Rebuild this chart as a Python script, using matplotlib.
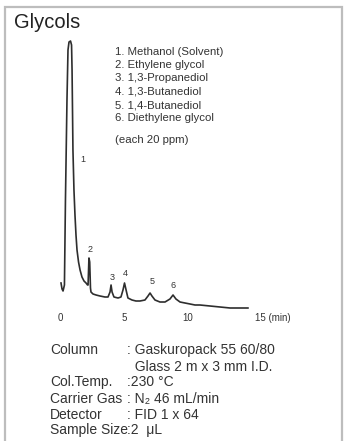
import matplotlib
matplotlib.use("Agg")
import matplotlib.pyplot as plt
from matplotlib.patches import Rectangle

plt.rcParams['font.family'] = ['Liberation Sans', 'DejaVu Sans']

# Chromatogram trace: retention time (min), detector signal (a.u.)
trace_time = [0.04, 0.12, 0.20, 0.31, 0.39, 0.51, 0.59, 0.67, 0.79, 0.87,
              0.91, 0.98, 1.06, 1.14, 1.22, 1.30, 1.42, 1.54, 1.69, 1.85,
              2.01, 2.13, 2.17, 2.24, 2.30, 2.36, 2.40, 2.56, 2.80, 3.11,
              3.50, 3.74, 3.90, 3.98, 4.06, 4.21, 4.53, 4.76, 4.92, 5.04,
              5.20, 5.31, 5.63, 5.94, 6.26, 6.65, 6.89, 7.05, 7.20, 7.44,
              7.83, 8.23, 8.62, 8.86, 9.09, 9.41, 9.80, 10.20, 10.59, 10.98,
              11.77, 12.56, 13.35, 14.13, 14.76]
trace_signal = [27, 21, 19, 25, 110, 210, 260, 268, 269, 265,
                240, 160, 120, 95, 75, 60, 48, 40, 33, 29,
                27, 25, 25, 52, 48, 22, 18, 16, 15, 14,
                13, 13, 18, 25, 18, 13, 12, 13, 20, 27,
                18, 12, 10, 9, 9, 10, 14, 17, 14, 10,
                8, 8, 11, 15, 11, 8, 7, 6, 5, 5,
                4, 3, 2, 2, 2]

peak_ids = ["1", "2", "3", "4", "5", "6"]
peak_label_time = [1.77, 2.32, 4.06, 5.08, 7.20, 8.86]
peak_label_signal = [150, 61, 33, 37, 28, 25]

compounds = ["1. Methanol (Solvent)", "2. Ethylene glycol", "3. 1,3-Propanediol",
             "4. 1,3-Butanediol", "5. 1,4-Butanediol", "6. Diethylene glycol"]
note = "(each 20 ppm)"

tick_values = [0, 5, 10, 15]
tick_labels = ["0", "5", "10", "15 (min)"]

cond_names = ["Column", "", "Col.Temp.", "Carrier Gas", "Detector", "Sample Size"]
cond_values = [": Gaskuropack 55 60/80", "  Glass 2 m x 3 mm I.D.", ":230 °C",
               ": N\u2082 46 mL/min", ": FID 1 x 64", ":2  \u03bcL"]

W, H = 345, 441
fig = plt.figure(figsize=(W / 100, H / 100), dpi=100)
fig.patch.set_facecolor("white")

def fx(px):
    return px / W

def fy(py):
    return 1 - py / H

# frame
fig.add_artist(Rectangle((fx(5), -0.02), fx(337), fy(7) + 0.02, transform=fig.transFigure,
                         fill=False, edgecolor="#bdbdbd", linewidth=1.6))

# axes: t=-0.5 -> px 54.15, t=15.5 -> px 257.35 ; signal 0 -> py 310, 275 -> py 35
x0 = 60.5 - 0.5 * 12.7
x1 = 60.5 + 15.5 * 12.7
ax = fig.add_axes([fx(x0), fy(310), fx(x1 - x0), 275 / H])
ax.set_xlim(-0.5, 15.5)
ax.set_ylim(0, 275)
ax.axis("off")

ax.plot(trace_time, trace_signal, color="#2e2e2e", linewidth=1.2, solid_joinstyle="round")

text_color = "#333333"
for lab, t, s in zip(peak_ids, peak_label_time, peak_label_signal):
    ax.text(t, s, lab, fontsize=6.5, color=text_color, ha="center", va="center")

for v, lab in zip(tick_values, tick_labels):
    if lab == tick_labels[-1]:
        ax.text(v + 0.35, -8, lab, fontsize=7, color=text_color, ha="left", va="center",
                clip_on=False)
    else:
        ax.text(v, -8, lab, fontsize=7, color=text_color, ha="center", va="center",
                clip_on=False)

# title
fig.text(fx(14), fy(23), "Glycols", fontsize=14.5, color="#222222", ha="left", va="center")

# compound list
list_y = [52, 65, 78, 92, 105, 118]
for y, c in zip(list_y, compounds):
    fig.text(fx(115), fy(y), c, fontsize=8.2, color="#333333", ha="left", va="center")
fig.text(fx(115), fy(140), note, fontsize=8.2, color="#333333", ha="left", va="center")

# conditions
cond_y = [350, 367, 382, 399, 415, 430]
for y, n, v in zip(cond_y, cond_names, cond_values):
    if n:
        fig.text(fx(50), fy(y), n, fontsize=10, color="#333333", ha="left", va="center")
    fig.text(fx(127), fy(y), v, fontsize=10, color="#333333", ha="left", va="center")

fig.savefig("out.png", dpi=100, facecolor="white")
